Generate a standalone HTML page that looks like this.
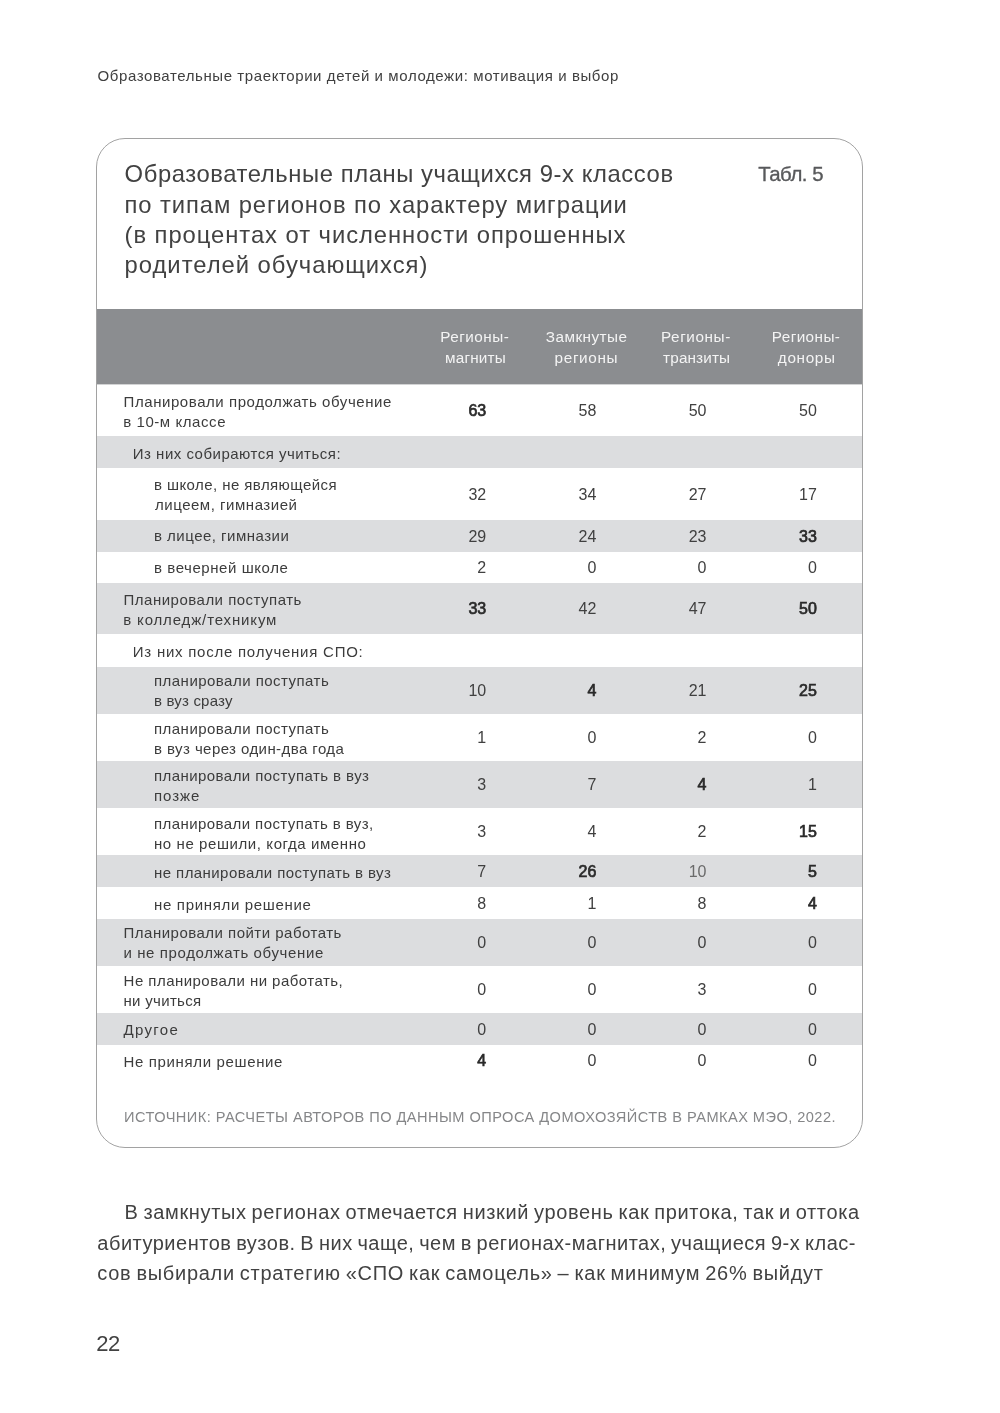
<!DOCTYPE html>
<html lang="ru"><head><meta charset="utf-8"><title>Образовательные траектории детей и молодежи: мотивация и выбор</title>
<style>
html,body{margin:0;padding:0;background:#fff;}
body{width:1000px;height:1413px;position:relative;overflow:hidden;font-family:"Liberation Sans", sans-serif;color:#2b2b2b;}
.page{position:absolute;left:0;top:0;width:1000px;height:1413px;will-change:transform;}
.t{position:absolute;white-space:nowrap;margin:0;padding:0;display:block;}
.run{font-size:15px;line-height:20px;color:#404040;}
.card{position:absolute;left:96px;top:138px;width:765px;height:1008px;border:1px solid #a2a2a2;border-radius:29px;box-sizing:content-box;}
.inner{position:absolute;left:-97px;top:-139px;width:1000px;height:1413px;}
.title{margin:0;padding:0;font-weight:400;}
.ttl{font-size:23.8px;line-height:31px;color:#424242;}
.tabl{font-size:20.4px;line-height:27px;color:#58595b;-webkit-text-stroke:0.35px #58595b;}
.thead{position:absolute;left:97px;width:765px;background:#8b8d90;box-shadow:0 1px 0 #d2d3d4;}
table,thead,tbody,tr,th,td{display:block;margin:0;padding:0;border:0;font-weight:400;text-align:left;}
.thead .t{margin-top:-309px;}
.hd{font-size:15.3px;line-height:20px;color:#f4f4f4;}
.tr{position:absolute;left:97px;width:765px;}
.tr.g{background:#dcdddf;}
.tr .t{margin-left:-97px;}
.thead .t{margin-left:-97px;}
.lb{font-size:15px;line-height:20px;color:#3c3c3c;}
.nm{font-size:16px;line-height:20px;color:#404040;}
.nm.b{font-weight:400;color:#2a2a2a;-webkit-text-stroke:0.7px #2a2a2a;}
.nm.lt{color:#6a6a6a;}
.src{font-size:14.6px;line-height:19px;color:#858688;}
.pl{font-size:20px;line-height:26px;color:#424242;}
.para{margin:0;padding:0;}
.pgno{font-size:22px;line-height:29px;color:#424242;}
</style></head>
<body><div class="page">
<header><div class="t run" style="left:97.50px;top:65.90px;letter-spacing:0.596px;">Образовательные траектории детей и молодежи: мотивация и выбор</div></header>
<section class="card"><div class="inner">
<h2 class="title"><span class="t ttl" style="left:124.60px;top:158.10px;letter-spacing:0.585px;">Образовательные планы учащихся 9-х классов</span> <span class="t ttl" style="left:124.60px;top:188.80px;letter-spacing:0.891px;">по типам регионов по характеру миграции</span> <span class="t ttl" style="left:124.60px;top:219.20px;letter-spacing:0.943px;">(в процентах от численности опрошенных</span> <span class="t ttl" style="left:124.60px;top:249.40px;letter-spacing:0.979px;">родителей обучающихся)</span></h2>
<div class="t tabl" style="left:758.20px;top:160.70px;letter-spacing:-0.478px;">Табл. 5</div>
<table class="tbl"><thead><tr class="thead" style="top:309px;height:75px"><th class="corner"></th><th scope="col"><span class="t hd" style="left:440.30px;top:327.30px;letter-spacing:0.470px;">Регионы-</span> <span class="t hd" style="left:445.00px;top:347.50px;letter-spacing:0.183px;">магниты</span></th><th scope="col"><span class="t hd" style="left:545.80px;top:327.30px;letter-spacing:0.443px;">Замкнутые</span> <span class="t hd" style="left:554.60px;top:347.50px;letter-spacing:0.634px;">регионы</span></th><th scope="col"><span class="t hd" style="left:661.00px;top:327.30px;letter-spacing:0.584px;">Регионы-</span> <span class="t hd" style="left:663.10px;top:347.50px;letter-spacing:0.138px;">транзиты</span></th><th scope="col"><span class="t hd" style="left:771.80px;top:327.30px;letter-spacing:0.413px;">Регионы-</span> <span class="t hd" style="left:777.80px;top:347.50px;letter-spacing:0.661px;">доноры</span></th></tr></thead><tbody>
<tr class="tr" style="top:384px;height:52px"><th scope="row" class="lab"><span class="t lb" style="left:123.60px;top:7.70px;letter-spacing:0.564px;">Планировали продолжать обучение</span> <span class="t lb" style="left:123.20px;top:27.70px;letter-spacing:0.573px;">в 10-м классе</span></th><td><span class="t nm b" style="left:468.40px;top:16.83px">63</span></td><td><span class="t nm" style="left:578.50px;top:16.83px">58</span></td><td><span class="t nm" style="left:688.70px;top:16.83px">50</span></td><td><span class="t nm" style="left:799.10px;top:16.83px">50</span></td></tr>
<tr class="tr g" style="top:436px;height:32px"><th scope="row" class="lab"><span class="t lb" style="left:132.80px;top:7.50px;letter-spacing:0.495px;">Из них собираются учиться:</span></th><td colspan="4"></td></tr>
<tr class="tr" style="top:468px;height:52px"><th scope="row" class="lab"><span class="t lb" style="left:154.00px;top:6.70px;letter-spacing:0.428px;">в школе, не являющейся</span> <span class="t lb" style="left:155.00px;top:26.90px;letter-spacing:0.525px;">лицеем, гимназией</span></th><td><span class="t nm" style="left:468.40px;top:16.83px">32</span></td><td><span class="t nm" style="left:578.50px;top:16.83px">34</span></td><td><span class="t nm" style="left:688.70px;top:16.83px">27</span></td><td><span class="t nm" style="left:799.10px;top:16.83px">17</span></td></tr>
<tr class="tr g" style="top:520px;height:32px"><th scope="row" class="lab"><span class="t lb" style="left:154.00px;top:6.30px;letter-spacing:0.488px;">в лицее, гимназии</span></th><td><span class="t nm" style="left:468.40px;top:6.83px">29</span></td><td><span class="t nm" style="left:578.50px;top:6.83px">24</span></td><td><span class="t nm" style="left:688.70px;top:6.83px">23</span></td><td><span class="t nm b" style="left:799.10px;top:6.83px">33</span></td></tr>
<tr class="tr" style="top:552px;height:31px"><th scope="row" class="lab"><span class="t lb" style="left:154.00px;top:5.80px;letter-spacing:0.568px;">в вечерней школе</span></th><td><span class="t nm" style="left:477.30px;top:6.33px">2</span></td><td><span class="t nm" style="left:587.40px;top:6.33px">0</span></td><td><span class="t nm" style="left:697.60px;top:6.33px">0</span></td><td><span class="t nm" style="left:808.00px;top:6.33px">0</span></td></tr>
<tr class="tr g" style="top:583px;height:51px"><th scope="row" class="lab"><span class="t lb" style="left:123.60px;top:7.20px;letter-spacing:0.491px;">Планировали поступать</span> <span class="t lb" style="left:123.20px;top:27.00px;letter-spacing:0.859px;">в колледж/техникум</span></th><td><span class="t nm b" style="left:468.40px;top:16.33px">33</span></td><td><span class="t nm" style="left:578.50px;top:16.33px">42</span></td><td><span class="t nm" style="left:688.70px;top:16.33px">47</span></td><td><span class="t nm b" style="left:799.10px;top:16.33px">50</span></td></tr>
<tr class="tr" style="top:634px;height:33px"><th scope="row" class="lab"><span class="t lb" style="left:132.80px;top:7.80px;letter-spacing:0.755px;">Из них после получения СПО:</span></th><td colspan="4"></td></tr>
<tr class="tr g" style="top:667px;height:47px"><th scope="row" class="lab"><span class="t lb" style="left:154.00px;top:4.30px;letter-spacing:0.469px;">планировали поступать</span> <span class="t lb" style="left:154.00px;top:24.40px;letter-spacing:0.185px;">в вуз сразу</span></th><td><span class="t nm" style="left:468.40px;top:14.33px">10</span></td><td><span class="t nm b" style="left:587.40px;top:14.33px">4</span></td><td><span class="t nm" style="left:688.70px;top:14.33px">21</span></td><td><span class="t nm b" style="left:799.10px;top:14.33px">25</span></td></tr>
<tr class="tr" style="top:714px;height:47px"><th scope="row" class="lab"><span class="t lb" style="left:154.00px;top:5.00px;letter-spacing:0.469px;">планировали поступать</span> <span class="t lb" style="left:154.00px;top:25.40px;letter-spacing:0.426px;">в вуз через один-два года</span></th><td><span class="t nm" style="left:477.30px;top:14.33px">1</span></td><td><span class="t nm" style="left:587.40px;top:14.33px">0</span></td><td><span class="t nm" style="left:697.60px;top:14.33px">2</span></td><td><span class="t nm" style="left:808.00px;top:14.33px">0</span></td></tr>
<tr class="tr g" style="top:761px;height:47px"><th scope="row" class="lab"><span class="t lb" style="left:154.00px;top:4.80px;letter-spacing:0.436px;">планировали поступать в вуз</span> <span class="t lb" style="left:154.00px;top:24.90px;letter-spacing:0.948px;">позже</span></th><td><span class="t nm" style="left:477.30px;top:14.33px">3</span></td><td><span class="t nm" style="left:587.40px;top:14.33px">7</span></td><td><span class="t nm b" style="left:697.60px;top:14.33px">4</span></td><td><span class="t nm" style="left:808.00px;top:14.33px">1</span></td></tr>
<tr class="tr" style="top:808px;height:47px"><th scope="row" class="lab"><span class="t lb" style="left:154.00px;top:5.80px;letter-spacing:0.424px;">планировали поступать в вуз,</span> <span class="t lb" style="left:154.00px;top:25.90px;letter-spacing:0.585px;">но не решили, когда именно</span></th><td><span class="t nm" style="left:477.30px;top:14.33px">3</span></td><td><span class="t nm" style="left:587.40px;top:14.33px">4</span></td><td><span class="t nm" style="left:697.60px;top:14.33px">2</span></td><td><span class="t nm b" style="left:799.10px;top:14.33px">15</span></td></tr>
<tr class="tr g" style="top:855px;height:32px"><th scope="row" class="lab"><span class="t lb" style="left:154.00px;top:8.00px;letter-spacing:0.429px;">не планировали поступать в вуз</span></th><td><span class="t nm" style="left:477.30px;top:6.83px">7</span></td><td><span class="t nm b" style="left:578.50px;top:6.83px">26</span></td><td><span class="t nm lt" style="left:688.70px;top:6.83px">10</span></td><td><span class="t nm b" style="left:808.00px;top:6.83px">5</span></td></tr>
<tr class="tr" style="top:887px;height:32px"><th scope="row" class="lab"><span class="t lb" style="left:154.00px;top:7.50px;letter-spacing:0.679px;">не приняли решение</span></th><td><span class="t nm" style="left:477.30px;top:6.83px">8</span></td><td><span class="t nm" style="left:587.40px;top:6.83px">1</span></td><td><span class="t nm" style="left:697.60px;top:6.83px">8</span></td><td><span class="t nm b" style="left:808.00px;top:6.83px">4</span></td></tr>
<tr class="tr g" style="top:919px;height:47px"><th scope="row" class="lab"><span class="t lb" style="left:123.60px;top:4.00px;letter-spacing:0.484px;">Планировали пойти работать</span> <span class="t lb" style="left:123.40px;top:24.40px;letter-spacing:0.624px;">и не продолжать обучение</span></th><td><span class="t nm" style="left:477.30px;top:14.33px">0</span></td><td><span class="t nm" style="left:587.40px;top:14.33px">0</span></td><td><span class="t nm" style="left:697.60px;top:14.33px">0</span></td><td><span class="t nm" style="left:808.00px;top:14.33px">0</span></td></tr>
<tr class="tr" style="top:966px;height:47px"><th scope="row" class="lab"><span class="t lb" style="left:123.60px;top:4.90px;letter-spacing:0.463px;">Не планировали ни работать,</span> <span class="t lb" style="left:123.40px;top:25.00px;letter-spacing:0.332px;">ни учиться</span></th><td><span class="t nm" style="left:477.30px;top:14.33px">0</span></td><td><span class="t nm" style="left:587.40px;top:14.33px">0</span></td><td><span class="t nm" style="left:697.60px;top:14.33px">3</span></td><td><span class="t nm" style="left:808.00px;top:14.33px">0</span></td></tr>
<tr class="tr g" style="top:1013px;height:32px"><th scope="row" class="lab"><span class="t lb" style="left:123.40px;top:6.80px;letter-spacing:1.337px;">Другое</span></th><td><span class="t nm" style="left:477.30px;top:6.83px">0</span></td><td><span class="t nm" style="left:587.40px;top:6.83px">0</span></td><td><span class="t nm" style="left:697.60px;top:6.83px">0</span></td><td><span class="t nm" style="left:808.00px;top:6.83px">0</span></td></tr>
<tr class="tr" style="top:1045px;height:31px"><th scope="row" class="lab"><span class="t lb" style="left:123.60px;top:6.90px;letter-spacing:0.640px;">Не приняли решение</span></th><td><span class="t nm b" style="left:477.30px;top:6.33px">4</span></td><td><span class="t nm" style="left:587.40px;top:6.33px">0</span></td><td><span class="t nm" style="left:697.60px;top:6.33px">0</span></td><td><span class="t nm" style="left:808.00px;top:6.33px">0</span></td></tr>
</tbody></table>
<p class="t src" style="left:124.00px;top:1107.70px;letter-spacing:0.454px;">ИСТОЧНИК: РАСЧЕТЫ АВТОРОВ ПО ДАННЫМ ОПРОСА ДОМОХОЗЯЙСТВ В РАМКАХ МЭО, 2022.</p>
</div></section>
<p class="para"><span class="t pl" style="left:124.60px;top:1199.30px;letter-spacing:0.643px;word-spacing:-1.3px;">В замкнутых регионах отмечается низкий уровень как притока, так и оттока</span> <span class="t pl" style="left:97.30px;top:1229.50px;letter-spacing:0.502px;word-spacing:-1.3px;">абитуриентов вузов. В них чаще, чем в регионах-магнитах, учащиеся 9-х клас-</span> <span class="t pl" style="left:97.30px;top:1259.80px;letter-spacing:0.717px;word-spacing:-1.3px;">сов выбирали стратегию «СПО как самоцель» – как минимум 26% выйдут</span></p>
<footer><div class="t pgno" style="left:96.20px;top:1328.60px;letter-spacing:-0.435px;">22</div></footer>
</div></body></html>
